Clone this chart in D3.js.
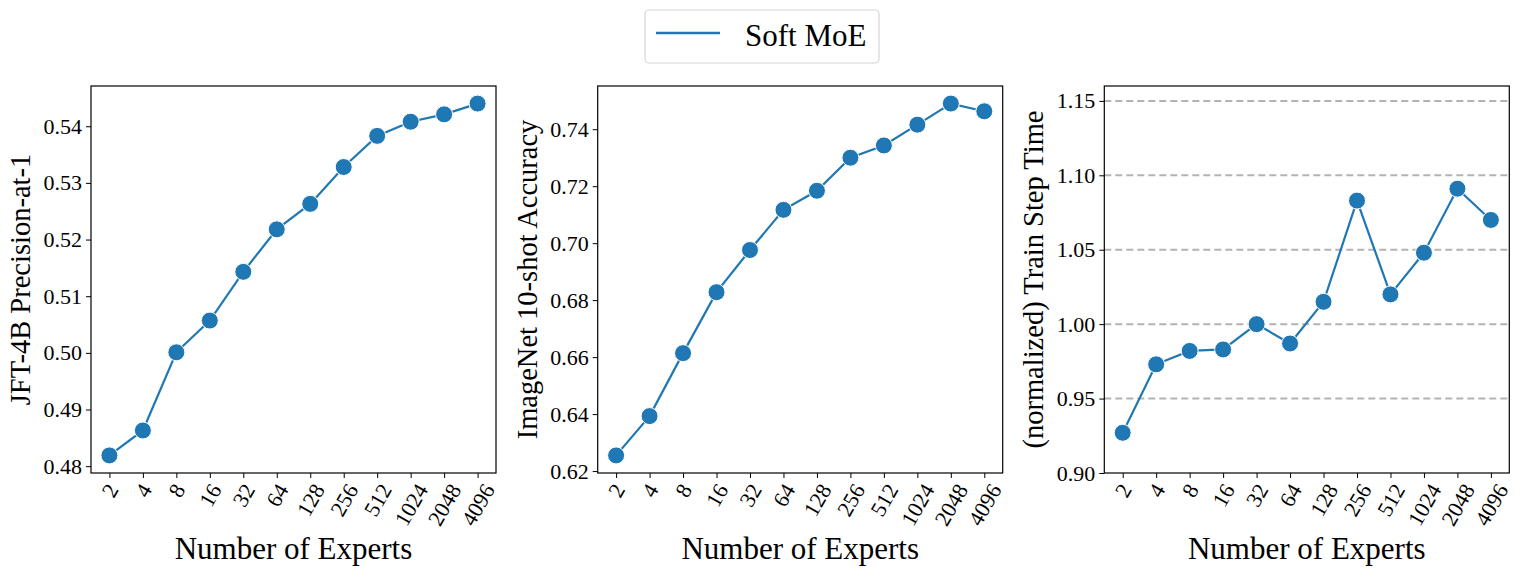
<!DOCTYPE html>
<html>
<head>
<meta charset="utf-8">
<script src="https://cdn.jsdelivr.net/npm/d3@7"></script>
<style>
  body { margin: 0; background: #fff; }
  text { font-family: "Liberation Serif", "DejaVu Serif", serif; fill: #000; }
</style>
</head>
<body>
<svg id="chart" width="1522" height="577"></svg>
<script>
// number of experts (categorical x axis)
const experts = ["2", "4", "8", "16", "32", "64", "128", "256", "512", "1024", "2048", "4096"]

// values
const jftPrecision = [0.4819, 0.4863, 0.5001, 0.5057, 0.5143, 0.5218, 0.5263, 0.5328, 0.5383, 0.5408, 0.5421, 0.5440]
const imagenetAcc = [0.6255, 0.6393, 0.6614, 0.6828, 0.6976, 0.7117, 0.7184, 0.7300, 0.7343, 0.7416, 0.7490, 0.7463]
const stepTime = [0.927, 0.973, 0.982, 0.983, 1.000, 0.987, 1.015, 1.083, 1.020, 1.048, 1.091, 1.070]

const jftTicks = [0.48, 0.49, 0.50, 0.51, 0.52, 0.53, 0.54]
const imagenetTicks = [0.62, 0.64, 0.66, 0.68, 0.70, 0.72, 0.74]
const timeTicks = [0.90, 0.95, 1.00, 1.05, 1.10, 1.15]

const seriesName = "Soft MoE"
const blue = "#1f77b4"

const svg = d3.select("#chart")
const plotTop = 86, plotBottom = 473, panelW = 405

// matplotlib-style 5% auto margin
function padded(vals) {
  let lo = d3.min(vals), hi = d3.max(vals), m = (hi - lo) * 0.05
  return [lo - m, hi + m]
}

const panels = [
  { left: 91, values: jftPrecision, ticks: jftTicks, label: "JFT-4B Precision-at-1", domain: padded(jftPrecision), grid: false },
  { left: 597.7, values: imagenetAcc, ticks: imagenetTicks, label: "ImageNet 10-shot Accuracy", domain: padded(imagenetAcc), grid: false },
  { left: 1104.3, values: stepTime, ticks: timeTicks, label: "(normalized) Train Step Time", domain: [0.9, 1.16], grid: true }
]

panels.forEach(p => {
  let xScale = d3.scaleLinear().domain([-0.55, experts.length - 1 + 0.55]).range([p.left, p.left + panelW])
  let yScale = d3.scaleLinear().domain(p.domain).range([plotBottom, plotTop])
  let g = svg.append("g")

  // dashed horizontal grid
  if (p.grid) {
    g.selectAll(".grid").data(p.ticks.filter(t => t > p.domain[0])).enter().append("line")
      .attr("x1", p.left).attr("x2", p.left + panelW)
      .attr("y1", d => yScale(d)).attr("y2", d => yScale(d))
      .attr("stroke", "#b3b3b3").attr("stroke-width", 2).attr("stroke-dasharray", "7,4")
  }

  // y axis
  let yAxis = d3.axisLeft(yScale).tickValues(p.ticks).tickFormat(d3.format(".2f")).tickSize(5).tickPadding(4)
  let ya = g.append("g").attr("transform", "translate(" + p.left + ",0)").call(yAxis)
  ya.select(".domain").remove()
  ya.selectAll("text").style("font-size", "22px").attr("font-family", null)
  ya.selectAll("line").attr("stroke-width", 1)

  // x axis with rotated labels
  let xa = g.append("g").attr("transform", "translate(0," + plotBottom + ")")
    .call(d3.axisBottom(xScale).tickValues(d3.range(experts.length)).tickFormat(i => experts[i]).tickSize(5))
  xa.select(".domain").remove()
  xa.selectAll("line").attr("stroke-width", 1)
  xa.selectAll("text").style("font-size", "22px").attr("font-family", null).attr("dy", null).attr("y", 0)
    .attr("text-anchor", "middle").attr("dominant-baseline", "central")
    .each(function () {
      let w = this.getComputedTextLength(), h = 15
      let ext = w * Math.sin(Math.PI / 3) + h * Math.cos(Math.PI / 3)
      d3.select(this).attr("transform", "translate(0," + (9 + ext / 2) + ") rotate(-60)")
    })

  // frame
  g.append("rect").attr("x", p.left).attr("y", plotTop).attr("width", panelW).attr("height", plotBottom - plotTop)
    .attr("fill", "none").attr("stroke", "#000").attr("stroke-width", 1.2)

  // line + markers
  let line = d3.line().x((d, i) => xScale(i)).y(d => yScale(d))
  g.append("path").datum(p.values).attr("d", line)
    .attr("fill", "none").attr("stroke", blue).attr("stroke-width", 2.2)
  g.selectAll(".pt").data(p.values).enter().append("circle")
    .attr("cx", (d, i) => xScale(i)).attr("cy", d => yScale(d)).attr("r", 8.5)
    .attr("fill", blue).attr("stroke", "#fff").attr("stroke-width", 1)

  // axis labels
  g.append("text").attr("x", p.left + panelW / 2).attr("y", 559)
    .attr("text-anchor", "middle").style("font-size", "31px").text("Number of Experts")
  g.append("text").attr("transform", "translate(" + (p.left - 61) + "," + ((plotTop + plotBottom) / 2) + ") rotate(-90)")
    .attr("text-anchor", "middle").style("font-size", "28.5px").text(p.label)
})

// legend
let lg = svg.append("g")
lg.append("rect").attr("x", 645).attr("y", 10).attr("width", 234).attr("height", 53).attr("rx", 4)
  .attr("fill", "#fff").attr("stroke", "#d6d6d6").attr("stroke-width", 1.2)
lg.append("line").attr("x1", 656).attr("x2", 720).attr("y1", 33).attr("y2", 33)
  .attr("stroke", blue).attr("stroke-width", 2.5)
lg.append("text").attr("x", 745).attr("y", 46).style("font-size", "31px").text(seriesName)
</script>
</body>
</html>
